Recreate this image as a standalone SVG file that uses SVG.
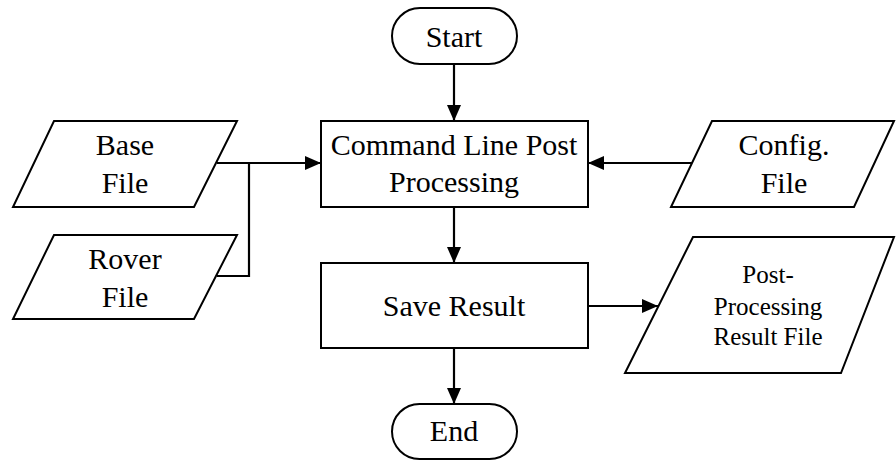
<svg xmlns="http://www.w3.org/2000/svg" width="896" height="461" viewBox="0 0 896 461">
<style>
.s{fill:#fff;stroke:#000;stroke-width:2}
.t{font-family:"Liberation Serif","DejaVu Serif",serif;font-size:30px;fill:#000;text-anchor:middle}
.t2{font-family:"Liberation Serif","DejaVu Serif",serif;font-size:25px;fill:#000;text-anchor:middle}
.c{fill:none;stroke:#000;stroke-width:2.2}
</style>
<defs>
<marker id="ah" markerUnits="userSpaceOnUse" markerWidth="16" markerHeight="14" refX="16" refY="7" orient="auto">
<path d="M0,0 L16,7 L0,14 z" fill="#000"/>
</marker>
</defs>
<rect width="896" height="461" fill="#fff"/>
<g id="connectors">
<path class="c" d="M454,64 V121" marker-end="url(#ah)"/>
<path class="c" d="M217,163 H321" marker-end="url(#ah)"/>
<path class="c" d="M217,276 H249 V163"/>
<path class="c" d="M693,163 H588" marker-end="url(#ah)"/>
<path class="c" d="M454,207 V263" marker-end="url(#ah)"/>
<path class="c" d="M454,348 V404" marker-end="url(#ah)"/>
<path class="c" d="M588,306 H658" marker-end="url(#ah)"/>
</g>
<g id="start">
<rect class="s" x="392" y="8" width="125" height="56" rx="28" ry="28"/>
<text class="t" x="454" y="47">Start</text>
</g>
<g id="command">
<rect class="s" x="321" y="121" width="267" height="86"/>
<text class="t" x="454" y="155">Command Line Post</text>
<text class="t" x="454" y="192">Processing</text>
</g>
<g id="base">
<polygon class="s" points="54,121 237,121 194,207 13,207"/>
<text class="t" x="125" y="155">Base</text>
<text class="t" x="125" y="193">File</text>
</g>
<g id="rover">
<polygon class="s" points="54,235 237,235 194,319 13,319"/>
<text class="t" x="125" y="269">Rover</text>
<text class="t" x="125" y="307">File</text>
</g>
<g id="config">
<polygon class="s" points="712,121 894,121 854,207 671,207"/>
<text class="t" x="784" y="155">Config.</text>
<text class="t" x="784" y="193">File</text>
</g>
<g id="save">
<rect class="s" x="321" y="263" width="267" height="85"/>
<text class="t" x="454" y="316">Save Result</text>
</g>
<g id="result">
<polygon class="s" points="693,237 894,237 841,373 625,373"/>
<text class="t2" x="768" y="283">Post-</text>
<text class="t2" x="768" y="315">Processing</text>
<text class="t2" x="768" y="345">Result File</text>
</g>
<g id="end">
<rect class="s" x="392" y="404" width="125" height="55" rx="27.5" ry="27.5"/>
<text class="t" x="454" y="441">End</text>
</g>
</svg>
